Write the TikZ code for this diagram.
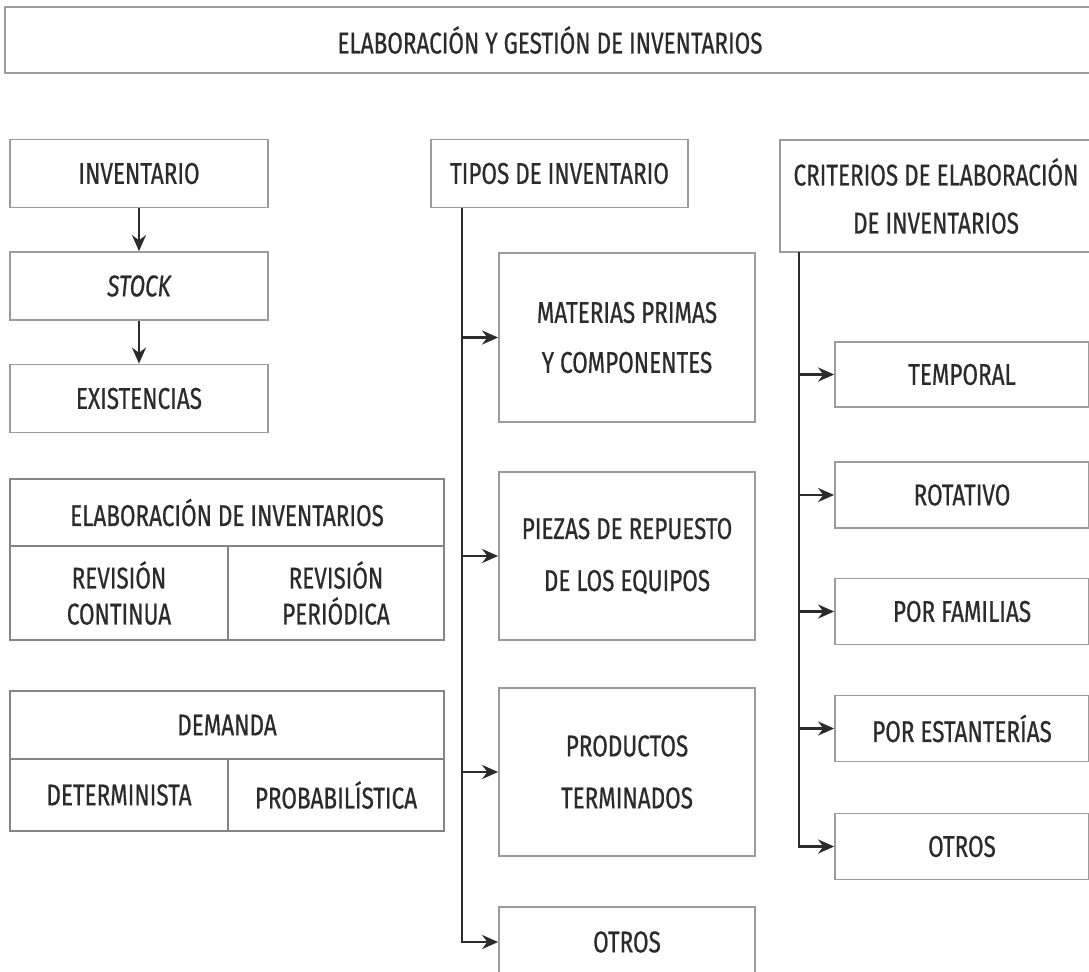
\documentclass[tikz,border=0pt]{standalone}
\usepackage{fontspec}
\setmainfont{Fira Sans}[FakeStretch=0.75,FakeBold=0.6]
\usepackage{tikz}
\usetikzlibrary{arrows.meta}
\definecolor{txt}{HTML}{2B2B2B}
\definecolor{frame}{HTML}{9C9C9C}

\begin{document}
\begin{tikzpicture}[x=0.5pt,y=-0.5pt,
    box/.style={draw=frame,line width=0.9pt,minimum width=129pt,minimum height=34pt,
                inner sep=0pt,align=center,text=txt,font=\fontsize{15}{18}\selectfont},
    cell/.style={box,draw=frame!85!black},
    link/.style={draw=txt,line width=1.4pt}]
      \path[use as bounding box,clip] (0,0) rectangle (1089,971);

      \node[box,minimum width=545pt,minimum height=33pt] (T) at (550,40) {ELABORACIÓN Y GESTIÓN DE INVENTARIOS};

      % left column
      \node[box] (I) at (139,173.5) {INVENTARIO};
      \node[box] (S) at (139,286) {\itshape STOCK};
      \node[box] (X) at (139,398.5) {EXISTENCIAS};

      \node[cell,minimum width=217pt,minimum height=33.5pt] (EL) at (227,512.5) {ELABORACIÓN DE INVENTARIOS};
      \node[cell,minimum width=109pt,minimum height=47pt] (RC) at (119,593) {REVISIÓN\\CONTINUA};
      \node[cell,minimum width=108pt,minimum height=47pt] (RP) at (336,593) {REVISIÓN\\PERIÓDICA};

      \node[cell,minimum width=217pt,minimum height=34pt] (D) at (227,725) {DEMANDA};
      \node[cell,minimum width=109pt,minimum height=36pt] (DD) at (119,795) {DETERMINISTA};
      \node[cell,minimum width=108pt,minimum height=36pt] (DP) at (336,795) {PROBABILÍSTICA};

      % middle column
      \node[box,minimum width=128.5pt] (TI) at (559.5,173.5) {TIPOS DE INVENTARIO};
      \node[box,minimum width=128pt,minimum height=84.5pt] (M)  at (627,337.5) {MATERIAS PRIMAS\\[7pt]Y COMPONENTES};
      \node[box,minimum width=128pt,minimum height=84pt]   (P)  at (627,556)   {PIEZAS DE REPUESTO\\[8pt]DE LOS EQUIPOS};
      \node[box,minimum width=128pt,minimum height=84pt]   (PT) at (627,772)   {PRODUCTOS\\[8pt]TERMINADOS};
      \node[box,minimum width=128pt,minimum height=35pt]   (O1) at (627,942)   {OTROS};

      % right column
      \node[box,minimum width=156pt,minimum height=56pt] (C) at (936,196) {CRITERIOS DE ELABORACIÓN\\[6pt]DE INVENTARIOS};
      \node[box,minimum width=127pt,minimum height=32.5pt] (CT) at (962,374.5) {TEMPORAL};
      \node[box,minimum width=127pt,minimum height=33pt]   (CR) at (962,495)   {ROTATIVO};
      \node[box,minimum width=127pt,minimum height=33pt]   (CF) at (962,611.5) {POR FAMILIAS};
      \node[box,minimum width=127pt,minimum height=33pt]   (CE) at (962,728.5) {POR ESTANTERÍAS};
      \node[box,minimum width=127pt,minimum height=33pt]   (CO) at (962,846.5) {OTROS};

      \coordinate (A) at (462,207.5);
      \coordinate (B) at (799,252);

      \draw[link,-{Stealth[length=8pt,width=7pt]}] (I) -- (S) ;
      \draw[link,-{Stealth[length=8pt,width=7pt]}] (S) -- (X) ;

      \draw[link,-{Stealth[length=8pt,width=7pt]}] (A) |- (O1.west) ;
      \draw[link,-{Stealth[length=8pt,width=7pt]}] (A |- M.west) -- (M.west) ;
      \draw[link,-{Stealth[length=8pt,width=7pt]}] (A |- P.west) -- (P.west) ;
      \draw[link,-{Stealth[length=8pt,width=7pt]}] (A |- PT.west) -- (PT.west) ;

      \draw[link,-{Stealth[length=8pt,width=7pt]}] (B) |- (CO.west) ;
      \draw[link,-{Stealth[length=8pt,width=7pt]}] (B |- CT.west) -- (CT.west) ;
      \draw[link,-{Stealth[length=8pt,width=7pt]}] (B |- CR.west) -- (CR.west) ;
      \draw[link,-{Stealth[length=8pt,width=7pt]}] (B |- CF.west) -- (CF.west) ;
      \draw[link,-{Stealth[length=8pt,width=7pt]}] (B |- CE.west) -- (CE.west) ;
    \end{tikzpicture}
\end{document}
